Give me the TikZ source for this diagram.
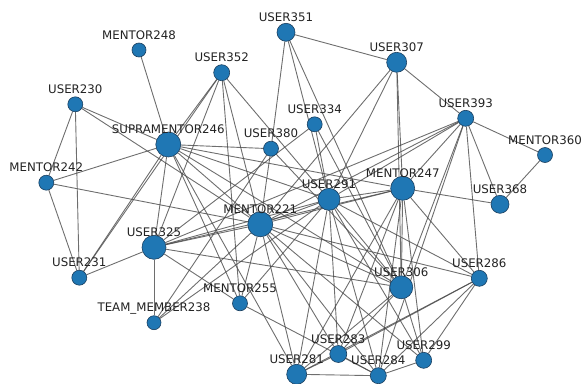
\documentclass[tikz,border=0pt]{standalone}
\usepackage{fontspec}
\setmainfont{DejaVu Sans}
\usetikzlibrary{backgrounds}
\definecolor{nodeblue}{HTML}{1F77B4}
\definecolor{nodeedge}{HTML}{1B3F5F}
\definecolor{edgegray}{HTML}{4A4A4A}
\definecolor{txt}{HTML}{222222}
\tikzset{
  vert/.style={circle, fill=nodeblue, draw=nodeedge, line width=0.6pt, inner sep=0pt},
  lbl/.style={anchor=base, inner sep=0pt, text=txt, font=\fontsize{11.8}{12}\selectfont},
  link/.style={draw=edgegray, line width=0.9pt, draw opacity=0.8}
}
\newcommand{\nd}[5]{%
  \node[vert, minimum size=#4*2pt] (#1) at (#2,#3) {};
  \node[lbl] (#1-l) at (#2,#3-11) {#5};}
\begin{document}
\begin{tikzpicture}[x=1pt,y=-1pt]
\useasboundingbox (0,0) rectangle (581,383);
\clip (0,0) rectangle (581,383);
\nd{m248}{139}{50}{7}{MENTOR248}
\nd{u230}{75.3}{104.3}{7.5}{USER230}
\nd{s246}{168.3}{144.5}{12.5}{SUPRAMENTOR246}
\nd{m242}{46.3}{182.7}{7.5}{MENTOR242}
\nd{u352}{221.7}{72.7}{8}{USER352}
\nd{u351}{286}{32.3}{9}{USER351}
\nd{u334}{314.7}{124.3}{7.5}{USER334}
\nd{u380}{271}{148.7}{7.5}{USER380}
\nd{u307}{396.7}{62.3}{10}{USER307}
\nd{u393}{465.7}{118.3}{8}{USER393}
\nd{m360}{545}{155}{7.5}{MENTOR360}
\nd{u368}{500}{204.3}{9}{USER368}
\nd{m247}{402.7}{188.3}{12}{MENTOR247}
\nd{u291}{329}{199.3}{11}{USER291}
\nd{m221}{260.3}{224.3}{12.5}{MENTOR221}
\nd{u325}{154}{247.3}{12}{USER325}
\nd{u231}{79.3}{277.7}{7.5}{USER231}
\nd{t238}{154}{322.7}{7}{TEAM\_MEMBER238}
\nd{m255}{240}{303.3}{7.5}{MENTOR255}
\nd{u306}{401.3}{287.3}{11.5}{USER306}
\nd{u286}{479.3}{278.3}{8}{USER286}
\nd{u299}{423.7}{360.3}{8}{USER299}
\nd{u283}{338.3}{354}{8.5}{USER283}
\nd{u281}{296.7}{374.3}{10}{USER281}
\nd{u284}{378.3}{375.7}{8}{USER284}
\begin{scope}[on background layer]
\foreach \a/\b in {
  m248/s246, u230/m242, u230/u231, u230/s246, u230/m221,
  m242/s246, m242/u231, m242/m221, u231/u325, u231/s246,
  s246/u352, s246/u325, s246/m221, s246/u291, s246/m247, s246/u306,
  s246/m255, s246/u281, s246/u380,
  u352/u325, u352/m221, u352/u291, u352/m255, u352/u231,
  u351/u307, u351/u380, u351/u291, u351/u306,
  u334/u291, u334/u325, u334/u306,
  u380/m221, u380/u306, u380/t238,
  u307/u291, u307/m247, u307/u393, u307/m221, u307/u306,
  u393/m360, u393/u368, u393/m247, u393/u291, u393/m221, u393/u306,
  u393/u286, u393/u284, u393/u325,
  m360/u368, m247/u368, m247/u291, m247/m221, m247/u325, m247/u306,
  m247/u286, m247/u283, m247/u284, m247/u299, m247/u281,
  u291/m221, u291/u325, u291/u306, u291/u286, u291/u281, u291/u283,
  u291/u284, u291/u299, u291/t238, u291/m255,
  m221/u325, m221/m255, m221/t238, m221/u306, m221/u286, m221/u281,
  m221/u283, m221/u284, m221/u299,
  u325/t238, u325/u306, u325/m255,
  m255/u284,
  u306/u283, u306/u299, u306/u281,
  u286/u281, u286/u283, u286/u284, u286/u299,
  u281/u283, u281/u284, u284/u299, u283/u284}
  \draw[link] (\a) -- (\b);
\end{scope}
\end{tikzpicture}
\end{document}
